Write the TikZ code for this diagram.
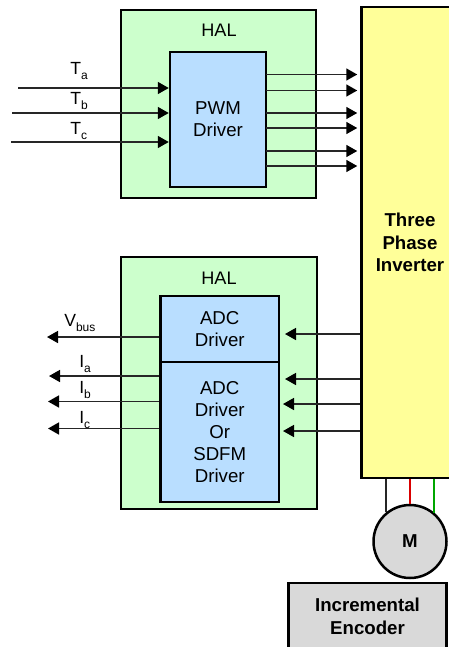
\documentclass[tikz,border=0pt]{standalone}
\usepackage{fontspec}
\setmainfont{Liberation Sans}
\usetikzlibrary{arrows.meta}
\def\px{0.75pt}
\newcommand{\sigtext}[2]{#1\raisebox{-0.25em}{\fontsize{9}{9}\selectfont #2}}
\definecolor{halgreen}{HTML}{CCFFCC}
\definecolor{driverblue}{HTML}{B9DEFF}
\definecolor{invyellow}{HTML}{FFFF99}
\definecolor{motorgray}{HTML}{D9D9D9}
\definecolor{wiregray}{HTML}{262626}
\tikzset{
  blockbox/.style={draw=black, line width=2.5*\px, inner sep=0pt, align=center,
    font=\fontsize{14}{16.5}\selectfont},
  halbox/.style={blockbox, fill=halgreen},
  driverbox/.style={blockbox, fill=driverblue},
  powerbox/.style={blockbox, font=\fontsize{14}{17}\selectfont\bfseries},
  haltext/.style={font=\fontsize{13.6}{16.5}\selectfont, inner sep=0pt},
  sigtextbox/.style={font=\fontsize{13.2}{16.5}\selectfont, inner sep=0pt, anchor=west},
  sigarrow/.style={draw=wiregray, line width=1.6*\px, -{Triangle[length=11*\px, width=12*\px, color=black]}},
  motorwire/.style={line width=1.7*\px}
}
\begin{document}
\begin{tikzpicture}[x=0.75pt, y=-0.75pt]
  \clip (0,0) rectangle (449,647);

  % Inverter, runs past the right edge
  \node[powerbox, fill=invyellow, minimum width=97*\px, minimum height=471*\px] (inverter) at (410,242.5) {Three\\Phase\\Inverter};

  % Upper HAL
  \node[halbox, minimum width=195*\px, minimum height=188*\px] (halpwm) at (218.5,104) {};
  \node[haltext] (halpwmtext) at (219,30.5) {HAL};
  \node[driverbox, minimum width=96*\px, minimum height=135*\px] (pwm) at (218,119.5) {PWM\\Driver};

  % Lower HAL
  \node[halbox, minimum width=196*\px, minimum height=252*\px] (haladc) at (219,383) {};
  \node[haltext] (haladctext) at (219,278.5) {HAL};
  \node[driverbox, minimum width=118.5*\px, minimum height=66*\px] (adcbus) at (219.75,329) {ADC\\Driver};
  \node[driverbox, minimum width=118.5*\px, minimum height=140*\px] (adcphase) at (219.75,432) {ADC\\Driver\\Or\\SDFM\\Driver};

  % Motor and encoder
  \node[blockbox, circle, fill=motorgray, minimum size=73*\px, font=\fontsize{14}{16.5}\selectfont\bfseries] (motor) at (410,541.5) {M};
  \node[powerbox, fill=motorgray, minimum width=158*\px, minimum height=66*\px] (encoder) at (367.5,616) {Incremental\\Encoder};

  % Phase wires
  \draw[motorwire, wiregray] (motor.129.4) -- (motor.129.4 |- inverter.south);
  \draw[motorwire, red!85!black] (motor.90) -- (motor.90 |- inverter.south);
  \draw[motorwire, green!65!black] (motor.50.6) -- (motor.50.6 |- inverter.south);

  % Duty inputs
  \foreach \name/\xstart/\ypos in {a/18/88, b/12/113, c/11/142} {
    \coordinate (t\name) at (\xstart,\ypos);
    \draw[sigarrow] (t\name) -- (t\name -| pwm.west);
  }
  \node[sigtextbox] (tatext) at (70,71) {\sigtext{T}{a}};
  \node[sigtextbox] (tbtext) at (70,101) {\sigtext{T}{b}};
  \node[sigtextbox] (tctext) at (70,131) {\sigtext{T}{c}};

  % PWM outputs
  \foreach \ypos in {74.5, 90.5, 113, 128, 151, 166} {
    \coordinate (pwmout) at (266,\ypos);
    \draw[sigarrow, shorten >=3*\px] (pwmout) -- (pwmout -| inverter.west);
  }

  % Feedback out of the drivers
  \coordinate (vbus) at (47,337);
  \coordinate (ia) at (49,376);
  \coordinate (ib) at (48,401.5);
  \coordinate (ic) at (48,428.5);
  \draw[sigarrow] (vbus -| adcbus.west) -- (vbus);
  \draw[sigarrow] (ia -| adcphase.west) -- (ia);
  \draw[sigarrow] (ib -| adcphase.west) -- (ib);
  \draw[sigarrow] (ic -| adcphase.west) -- (ic);
  \node[sigtextbox] (vbustext) at (64,323) {\sigtext{V}{bus}};
  \node[sigtextbox] (iatext) at (79,364) {\sigtext{I}{a}};
  \node[sigtextbox] (ibtext) at (79,390) {\sigtext{I}{b}};
  \node[sigtextbox] (ictext) at (79,420) {\sigtext{I}{c}};

  % Feedback from the inverter
  \foreach \xend/\ypos in {285/334, 285/379, 283/404, 283/431} {
    \coordinate (sense) at (\xend,\ypos);
    \draw[sigarrow] (sense -| inverter.west) -- (sense);
  }
\end{tikzpicture}
\end{document}
